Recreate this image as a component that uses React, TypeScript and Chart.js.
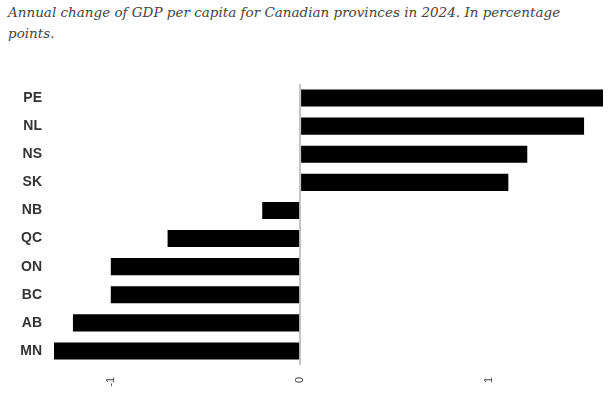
import React, { useEffect, useRef } from "react";
import { Chart, registerables } from "chart.js";

Chart.register(...registerables);

const titleLine1 = "Annual change of GDP per capita for Canadian provinces in 2024. In percentage";
const titleLine2 = "points.";
const provinces = ["PE", "NL", "NS", "SK", "NB", "QC", "ON", "BC", "AB", "MN"];
const changes = [1.6, 1.5, 1.2, 1.1, -0.2, -0.7, -1.0, -1.0, -1.2, -1.3];
const xTicks = [-1, 0, 1];
const xMin = -1.3;
const xMax = 1.6;

export default function App() {
  const ref = useRef<HTMLCanvasElement>(null);
  useEffect(() => {
    if (!ref.current) return;
    const chart = new Chart(ref.current, {
      type: "bar",
      data: {
        labels: provinces,
        datasets: [
          {
            data: changes,
            backgroundColor: "#000000",
            borderWidth: 0,
            barPercentage: 0.61,
            categoryPercentage: 1,
          },
        ],
      },
      options: {
        indexAxis: "y",
        animation: false,
        responsive: false,
        maintainAspectRatio: false,
        layout: { padding: { top: 24, left: 0, right: 8, bottom: 0 } },
        plugins: { legend: { display: false }, tooltip: { enabled: false }, title: { display: false } },
        scales: {
          x: {
            min: xMin,
            max: xMax,
            afterBuildTicks: (s: any) => {
              s.ticks = xTicks.map((v) => ({ value: v }));
            },
            afterFit: (s: any) => {
              s.height = 28;
            },
            border: { display: false },
            grid: {
              drawTicks: false,
              lineWidth: 2,
              color: (c: any) => (c.tick && c.tick.value === 0 ? "#c4c4c4" : "rgba(0,0,0,0)"),
            },
            ticks: {
              minRotation: 90,
              maxRotation: 90,
              padding: 12,
              color: "#444",
              font: { family: "'Liberation Sans', Arial, sans-serif", size: 11 },
              callback: (v: any) => String(v),
            },
          },
          y: {
            afterFit: (s: any) => {
              s.width = 54;
            },
            border: { display: false },
            grid: { display: false, drawTicks: false },
            ticks: {
              padding: 12,
              color: "#333",
              font: { family: "'Liberation Sans', Arial, sans-serif", size: 14, weight: "bold" },
            },
          },
        },
      },
    });
    return () => chart.destroy();
  }, []);

  return (
    <div style={{ position: "absolute", left: 0, top: 0, width: 611, height: 393, background: "#fff" }}>
      <div
        style={{
          position: "absolute",
          left: 8,
          top: 2,
          fontFamily: "'DejaVu Serif', Georgia, serif",
          fontStyle: "italic",
          fontSize: 13.5,
          lineHeight: "21px",
          color: "#444",
          whiteSpace: "nowrap",
        }}
      >
        {titleLine1}
        <br />
        {titleLine2}
      </div>
      <canvas
        ref={ref}
        width={611}
        height={333}
        style={{ position: "absolute", left: 0, top: 60, width: 611, height: 333 }}
      />
    </div>
  );
}
